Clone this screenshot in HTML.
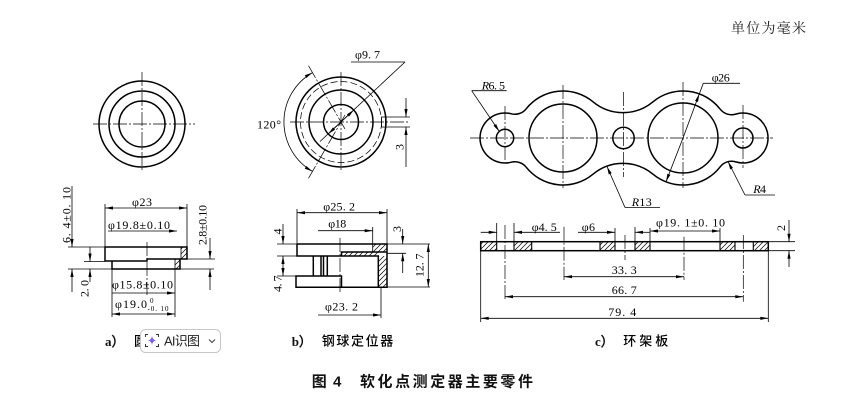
<!DOCTYPE html>
<html><head><meta charset="utf-8"><style>
html,body{margin:0;padding:0;background:#fff;}
svg{display:block}
.k{stroke:#000;stroke-width:1.5;fill:none}
.n{stroke:#000;stroke-width:0.8;fill:none}
.c{stroke:#000;stroke-width:0.7;fill:none;stroke-dasharray:14 2 2 2}
.h{stroke:#000;stroke-width:0.7;fill:none;stroke-dasharray:7 3}
.t{font-family:"Liberation Serif","Noto Serif CJK SC",serif;font-size:12px;fill:#000}
.cap{font-family:"Liberation Sans","Noto Sans CJK SC",sans-serif;font-size:13px;font-weight:500;fill:#000}
.lab{font-family:"Liberation Serif",serif;font-size:13px;font-weight:bold;fill:#111}
</style></head><body>
<svg width="867" height="400" viewBox="0 0 867 400" xmlns="http://www.w3.org/2000/svg">
<defs>
<marker id="a" viewBox="0 0 10 4" refX="10" refY="2" markerWidth="9" markerHeight="3.2" markerUnits="userSpaceOnUse" orient="auto-start-reverse"><path d="M0,0 L10,2 L0,4 Z" fill="#000"/></marker>
<pattern id="hp" patternUnits="userSpaceOnUse" width="5" height="5"><path d="M-1,1 L1,-1 M0,5 L5,0 M4,6 L6,4" stroke="#000" stroke-width="0.7"/></pattern>
</defs>

<!-- unit -->
<text x="731" y="33" style="font-family:'Liberation Serif','Noto Serif CJK SC',serif;font-size:14px;fill:#222" textLength="75">单位为毫米</text>

<!-- ===== a) top view ===== -->
<circle class="k" cx="142" cy="124" r="43"/>
<circle class="k" cx="142" cy="124" r="33"/>
<circle class="k" cx="142" cy="124" r="23"/>
<line class="c" x1="93" y1="124" x2="195" y2="124"/>
<line class="c" x1="142" y1="72" x2="142" y2="172"/>

<!-- ===== a) section ===== -->
<rect x="181" y="247" width="6" height="12" fill="url(#hp)"/>
<rect x="175" y="259" width="5" height="10" fill="url(#hp)"/>
<path class="k" d="M105,247 H187 V259 H147 V261 H105 Z"/>
<path class="k" d="M112,261 V269 H180 V259"/>
<line class="n" x1="181" y1="247" x2="181" y2="259"/>
<line class="n" x1="175" y1="259" x2="175" y2="269"/>
<line class="c" x1="147" y1="242" x2="147" y2="295"/>
<!-- dims a -->
<line class="n" x1="105" y1="204" x2="105" y2="247"/>
<line class="n" x1="187" y1="204" x2="187" y2="247"/>
<line class="n" x1="105" y1="208" x2="187" y2="208" marker-start="url(#a)" marker-end="url(#a)"/>
<text class="t" x="132" y="206" textLength="20">φ23</text>
<text class="t" x="108" y="229" textLength="62">φ19.8±0.10</text>
<line class="n" x1="108" y1="231" x2="177" y2="231" marker-end="url(#a)"/>
<line class="n" x1="68" y1="247" x2="105" y2="247"/>
<line class="n" x1="68" y1="269" x2="214" y2="269"/>
<line class="n" x1="84" y1="261.5" x2="105" y2="261.5"/>
<line class="n" x1="187" y1="259" x2="215" y2="259"/>
<line class="n" x1="72" y1="186" x2="72" y2="247" marker-end="url(#a)"/>
<line class="n" x1="72" y1="292" x2="72" y2="269" marker-end="url(#a)"/>
<text class="t" transform="translate(70.5,243) rotate(-90)" textLength="56">6. 4±0. 10</text>
<line class="n" x1="90" y1="247" x2="90" y2="261.5" marker-end="url(#a)"/>
<line class="n" x1="90" y1="282" x2="90" y2="269" marker-end="url(#a)"/>
<text class="t" transform="translate(88.5,297) rotate(-90)" textLength="17">2. 0</text>
<line class="n" x1="210" y1="238" x2="210" y2="259" marker-end="url(#a)"/>
<line class="n" x1="210" y1="290" x2="210" y2="269" marker-end="url(#a)"/>
<text class="t" transform="translate(206.5,245) rotate(-90)" textLength="40">2.8±0.10</text>
<text class="t" x="112" y="288.5" textLength="61">φ15.8±0.10</text>
<line class="n" x1="112" y1="293" x2="175" y2="293" marker-end="url(#a)"/>
<line class="n" x1="112" y1="269" x2="112" y2="317"/>
<line class="n" x1="175" y1="269" x2="175" y2="317"/>
<text class="t" x="115" y="308" textLength="32">φ19.0</text>
<text class="t" x="150" y="303" style="font-size:7px">0</text>
<text class="t" x="147.5" y="311" style="font-size:7px" textLength="21">-0. 10</text>
<line class="n" x1="112" y1="314" x2="175" y2="314" marker-start="url(#a)" marker-end="url(#a)"/>

<!-- ===== b) top view ===== -->
<circle class="k" cx="341" cy="122" r="45"/>
<circle class="h" cx="341" cy="122" r="40.5"/>
<circle class="k" cx="341" cy="122" r="32"/>
<circle class="k" cx="341" cy="122" r="17.5"/>
<rect class="n" x="381.5" y="117" width="4" height="10"/>
<line class="c" x1="290" y1="122" x2="410" y2="122"/>
<line class="c" x1="341" y1="72" x2="341" y2="172"/>
<line class="c" x1="308.5" y1="65.7" x2="345" y2="129"/>
<line class="c" x1="308.5" y1="178.3" x2="345" y2="115"/>
<path class="n" d="M312.5,72.6 A57,57 0 0 0 312.5,171.4" marker-start="url(#a)" marker-end="url(#a)"/>
<text class="t" x="257" y="128.5" textLength="24">120°</text>
<text class="t" x="355" y="58.5" textLength="25">φ9. 7</text>
<line class="n" x1="351" y1="62" x2="405" y2="62"/>
<line class="n" x1="405" y1="62" x2="320" y2="141.5"/>
<line class="n" x1="341" y1="122" x2="353.8" y2="110" marker-end="url(#a)"/>
<line class="n" x1="341" y1="122" x2="328.2" y2="134" marker-end="url(#a)"/>
<line class="n" x1="386" y1="117" x2="410" y2="117"/>
<line class="n" x1="386" y1="127" x2="410" y2="127"/>
<line class="n" x1="406" y1="98" x2="406" y2="117" marker-end="url(#a)"/>
<line class="n" x1="406" y1="167" x2="406" y2="127" marker-end="url(#a)"/>
<text class="t" transform="translate(403.5,150) rotate(-90)">3</text>

<!-- ===== b) section ===== -->
<rect x="372.7" y="244" width="14.3" height="8" fill="url(#hp)"/>
<rect x="341.5" y="252" width="37" height="4" fill="url(#hp)"/>
<rect x="378.3" y="256" width="8.7" height="31.3" fill="url(#hp)"/>
<path class="k" d="M297,244 H387 V287.3 H296 V276 H341.5 V287.3"/>
<path class="k" d="M297,244 V256 H378.3 V287.3"/>
<path class="k" d="M341.5,256 V252 H387"/>
<line class="n" x1="372.7" y1="244" x2="372.7" y2="252"/>
<line class="k" x1="313.3" y1="256" x2="313.3" y2="276"/>
<line class="k" x1="321" y1="256" x2="321" y2="276"/>
<line class="k" x1="323.5" y1="256" x2="323.5" y2="276"/>
<line class="k" x1="327.3" y1="256" x2="327.3" y2="276"/>
<line class="c" x1="340" y1="238" x2="340" y2="292"/>
<!-- dims b -->
<line class="n" x1="297" y1="209" x2="297" y2="244"/>
<line class="n" x1="387" y1="209" x2="387" y2="244"/>
<line class="n" x1="297" y1="212.7" x2="387" y2="212.7" marker-start="url(#a)" marker-end="url(#a)"/>
<text class="t" x="323.3" y="210.5" textLength="31.7">φ25. 2</text>
<text class="t" x="328.3" y="227.5" textLength="18">φ18</text>
<line class="n" x1="318" y1="230.7" x2="372.7" y2="230.7" marker-end="url(#a)"/>
<line class="n" x1="372.7" y1="227" x2="372.7" y2="244"/>
<line class="n" x1="277" y1="244" x2="297" y2="244"/>
<line class="n" x1="277" y1="256" x2="297" y2="256"/>
<line class="n" x1="277" y1="276" x2="296" y2="276"/>
<line class="n" x1="283" y1="224" x2="283" y2="244" marker-end="url(#a)"/>
<line class="n" x1="283" y1="256" x2="283" y2="276" marker-start="url(#a)" marker-end="url(#a)"/>
<text class="t" transform="translate(281.5,234.5) rotate(-90)">4</text>
<text class="t" transform="translate(281.5,292) rotate(-90)" textLength="16.5">4. 7</text>
<line class="n" x1="387" y1="244" x2="430" y2="244"/>
<line class="n" x1="387" y1="253.3" x2="406" y2="253.3"/>
<line class="n" x1="387" y1="287" x2="430" y2="287"/>
<line class="n" x1="402.7" y1="229" x2="402.7" y2="244" marker-end="url(#a)"/>
<line class="n" x1="402.7" y1="273" x2="402.7" y2="253.3" marker-end="url(#a)"/>
<text class="t" transform="translate(401,232) rotate(-90)">3</text>
<line class="n" x1="428.3" y1="244" x2="428.3" y2="287" marker-start="url(#a)" marker-end="url(#a)"/>
<text class="t" transform="translate(423.5,277) rotate(-90)" textLength="23.5">12. 7</text>
<line class="n" x1="381" y1="287" x2="381" y2="318"/>
<text class="t" x="325" y="310.5" textLength="33">φ23. 2</text>
<line class="n" x1="318" y1="315" x2="381" y2="315" marker-end="url(#a)"/>

<!-- ===== c) top view ===== -->
<path class="k" d="M511.3,113.8 A14.4,14.4 0 0 0 526.2,108.8 A47,47 0 0 1 593,101.8 A47,47 0 0 0 653,101.8 A47,47 0 0 1 720.1,109.1 A14.4,14.4 0 0 0 735.7,114.1 A25,25 0 1 1 735.7,161.9 A14.4,14.4 0 0 0 720.1,166.9 A47,47 0 0 1 653,174.2 A47,47 0 0 0 593,174.2 A47,47 0 0 1 526.2,167.2 A14.4,14.4 0 0 0 511.3,162.2 A25,25 0 1 1 511.3,113.8 Z"/>
<circle class="k" cx="505" cy="138" r="8.7"/>
<circle class="k" cx="563" cy="138" r="34"/>
<circle class="k" cx="623.5" cy="138" r="10.7"/>
<circle class="k" cx="683" cy="138" r="35"/>
<circle class="k" cx="743" cy="138" r="10"/>
<line class="c" x1="470" y1="138" x2="773" y2="138"/>
<line class="c" x1="505" y1="106" x2="505" y2="160"/>
<line class="c" x1="563" y1="85" x2="563" y2="188"/>
<line class="c" x1="623.5" y1="92" x2="623.5" y2="177"/>
<line class="c" x1="683" y1="82" x2="683" y2="188"/>
<line class="c" x1="743" y1="105" x2="743" y2="168"/>
<!-- leaders -->
<text class="t" x="481.7" y="89.5" textLength="23.3"><tspan font-style="italic">R</tspan>6. 5</text>
<line class="n" x1="471.7" y1="90.7" x2="506.7" y2="90.7"/>
<line class="n" x1="471.7" y1="90.7" x2="499.3" y2="131.5" marker-end="url(#a)"/>
<text class="t" x="711.7" y="81.5" textLength="18">φ26</text>
<line class="n" x1="703.3" y1="83.3" x2="740" y2="83.3"/>
<line class="n" x1="703.3" y1="83.3" x2="699.3" y2="93.9"/>
<line class="n" x1="683" y1="138" x2="699.3" y2="93.9" marker-end="url(#a)"/>
<line class="n" x1="683" y1="138" x2="666" y2="181.8" marker-end="url(#a)"/>
<text class="t" x="631.7" y="206" textLength="20"><tspan font-style="italic">R</tspan>13</text>
<line class="n" x1="625" y1="207.5" x2="660" y2="207.5"/>
<line class="n" x1="625" y1="207.5" x2="607" y2="166.5" marker-end="url(#a)"/>
<text class="t" x="753.3" y="193" textLength="12.7"><tspan font-style="italic">R</tspan>4</text>
<line class="n" x1="745" y1="195" x2="775" y2="195"/>
<line class="n" x1="745" y1="195" x2="728" y2="161.5" marker-end="url(#a)"/>

<!-- ===== c) section ===== -->
<rect x="480.7" y="241.7" width="16" height="9" fill="url(#hp)"/>
<rect x="514" y="241.7" width="17.7" height="9" fill="url(#hp)"/>
<rect x="600" y="241.7" width="15" height="9" fill="url(#hp)"/>
<rect x="635" y="241.7" width="15" height="9" fill="url(#hp)"/>
<rect x="720" y="241.7" width="15" height="9" fill="url(#hp)"/>
<rect x="753.3" y="241.7" width="15" height="9" fill="url(#hp)"/>
<rect class="k" x="480.7" y="241.7" width="287.6" height="9"/>
<g class="n" style="stroke-width:1.1">
<line x1="496.7" y1="241.7" x2="496.7" y2="250.7"/>
<line x1="514" y1="241.7" x2="514" y2="250.7"/>
<line x1="531.7" y1="241.7" x2="531.7" y2="250.7"/>
<line x1="600" y1="241.7" x2="600" y2="250.7"/>
<line x1="615" y1="241.7" x2="615" y2="250.7"/>
<line x1="635" y1="241.7" x2="635" y2="250.7"/>
<line x1="650" y1="241.7" x2="650" y2="250.7"/>
<line x1="720" y1="241.7" x2="720" y2="250.7"/>
<line x1="735" y1="241.7" x2="735" y2="250.7"/>
<line x1="753.3" y1="241.7" x2="753.3" y2="250.7"/>
</g>
<line class="c" x1="505" y1="225" x2="505" y2="300"/>
<line class="c" x1="564" y1="226.7" x2="564" y2="280"/>
<line class="c" x1="625" y1="235" x2="625" y2="260"/>
<line class="c" x1="684" y1="236.7" x2="684" y2="280"/>
<line class="c" x1="743.3" y1="235" x2="743.3" y2="301.7"/>
<!-- dims c -->
<line class="n" x1="496.7" y1="223" x2="496.7" y2="241.7"/>
<line class="n" x1="514" y1="223" x2="514" y2="241.7"/>
<line class="n" x1="615" y1="228" x2="615" y2="241.7"/>
<line class="n" x1="635" y1="227" x2="635" y2="241.7"/>
<line class="n" x1="650" y1="228" x2="650" y2="241.7"/>
<line class="n" x1="720" y1="228" x2="720" y2="241.7"/>
<line class="n" x1="480.7" y1="232.3" x2="496.7" y2="232.3" marker-end="url(#a)"/>
<line class="n" x1="560" y1="232.3" x2="514" y2="232.3" marker-end="url(#a)"/>
<text class="t" x="531.7" y="231" textLength="25">φ4. 5</text>
<text class="t" x="581.7" y="231" textLength="13.3">φ6</text>
<line class="n" x1="578" y1="232.3" x2="615" y2="232.3" marker-end="url(#a)"/>
<line class="n" x1="650" y1="232.3" x2="635" y2="232.3" marker-end="url(#a)"/>
<line class="n" x1="650" y1="231" x2="720" y2="231" marker-start="url(#a)" marker-end="url(#a)"/>
<text class="t" x="656" y="226.5" textLength="69">φ19. 1±0. 10</text>
<line class="n" x1="768.3" y1="241.7" x2="795" y2="241.7"/>
<line class="n" x1="768.3" y1="250.7" x2="795" y2="250.7"/>
<line class="n" x1="789" y1="220" x2="789" y2="241.7" marker-end="url(#a)"/>
<line class="n" x1="789" y1="267" x2="789" y2="250.7" marker-end="url(#a)"/>
<text class="t" transform="translate(785,231) rotate(-90)">2</text>
<line class="n" x1="480.7" y1="250.7" x2="480.7" y2="322"/>
<line class="n" x1="768.3" y1="250.7" x2="768.3" y2="322"/>
<line class="n" x1="564" y1="276.7" x2="684" y2="276.7" marker-start="url(#a)" marker-end="url(#a)"/>
<text class="t" x="611.7" y="274" textLength="25">33. 3</text>
<line class="n" x1="505" y1="296.7" x2="743.3" y2="296.7" marker-start="url(#a)" marker-end="url(#a)"/>
<text class="t" x="611.7" y="294" textLength="25">66. 7</text>
<line class="n" x1="480.7" y1="318.3" x2="768.3" y2="318.3" marker-start="url(#a)" marker-end="url(#a)"/>
<text class="t" x="608.3" y="316" textLength="28">79. 4</text>

<!-- ===== captions ===== -->
<text class="lab" x="105" y="346">a）</text>
<text class="cap" x="134" y="345.5">圆柱套</text>
<text class="lab" x="291.7" y="346">b）</text>
<text class="cap" x="321.7" y="345.5" textLength="71.6">钢球定位器</text>
<text class="lab" x="595" y="346">c）</text>
<text class="cap" x="623.3" y="345.5" textLength="45">环架板</text>

<!-- AI overlay button -->
<rect x="140.5" y="329.5" width="80" height="23" rx="5" ry="5" fill="#fff" stroke="#c8c8c8" stroke-width="1"/>
<g stroke="#333" stroke-width="1" fill="none">
<path d="M145.5,337 V334.5 H148"/><path d="M156,334.5 H158.5 V337"/>
<path d="M145.5,344 V346.5 H148"/><path d="M156,346.5 H158.5 V344"/>
</g>
<path d="M152,336 Q152.6,339.9 156,340.5 Q152.6,341.1 152,345 Q151.4,341.1 148,340.5 Q151.4,339.9 152,336 Z" fill="#7b5cf0"/>
<text x="164" y="345.5" style="font-family:'Liberation Sans','Noto Sans CJK SC',sans-serif;font-size:13px;fill:#222" textLength="36">AI识图</text>
<polyline points="209,339.5 212,342.5 215,339.5" fill="none" stroke="#444" stroke-width="1.1"/>

<!-- title -->
<text x="311.7" y="386.5" style="font-family:'Liberation Sans','Noto Sans CJK SC',sans-serif;font-size:15px;font-weight:bold;fill:#111">图</text>
<text x="333" y="386.5" style="font-family:'Liberation Sans','Noto Sans CJK SC',sans-serif;font-size:15px;font-weight:bold;fill:#111">4</text>
<text x="360" y="386.5" style="font-family:'Liberation Sans','Noto Sans CJK SC',sans-serif;font-size:15px;font-weight:bold;fill:#111" textLength="173">软化点测定器主要零件</text>
</svg>
</body></html>
